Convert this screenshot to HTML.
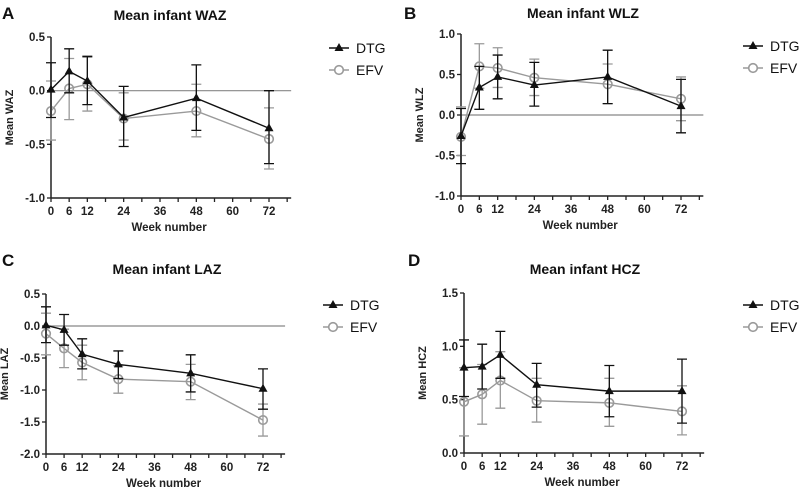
<!DOCTYPE html>
<html><head><meta charset="utf-8"><style>
html,body{margin:0;padding:0;background:#fff;}
svg{display:block;font-family:"Liberation Sans",Arial,sans-serif;}
</style></head><body>
<svg id="fig" width="799" height="491" viewBox="0 0 799 491"></svg>
<script>
const weeks=[0,6,12,24,48,72];
const xTicks=[0,6,12,18,24,30,36,42,48,54,60,66,72,78];
const xLabels=[0,6,12,24,36,48,60,72];
// A WAZ
const wazDtg=[0.01,0.18,0.09,-0.25,-0.07,-0.35];
const wazDtgLo=[-0.25,-0.02,-0.13,-0.52,-0.37,-0.68];
const wazDtgHi=[0.26,0.39,0.32,0.04,0.24,0.0];
const wazEfv=[-0.19,0.02,0.06,-0.26,-0.19,-0.45];
const wazEfvLo=[-0.46,-0.27,-0.19,-0.46,-0.43,-0.73];
const wazEfvHi=[0.09,0.30,0.31,-0.02,0.06,-0.16];
const wazTicks=[0.5,0.0,-0.5,-1.0];
// B WLZ
const wlzDtg=[-0.26,0.34,0.47,0.37,0.47,0.11];
const wlzDtgLo=[-0.6,0.07,0.2,0.11,0.14,-0.22];
const wlzDtgHi=[0.08,0.6,0.74,0.65,0.8,0.44];
const wlzEfv=[-0.27,0.6,0.58,0.46,0.38,0.2];
const wlzEfvLo=[-0.5,0.33,0.34,0.24,0.14,-0.07];
const wlzEfvHi=[0.1,0.88,0.83,0.69,0.63,0.47];
const wlzTicks=[1.0,0.5,0.0,-0.5,-1.0];
// C LAZ
const lazDtg=[0.01,-0.06,-0.44,-0.6,-0.74,-0.98];
const lazDtgLo=[-0.26,-0.3,-0.67,-0.82,-1.03,-1.3];
const lazDtgHi=[0.3,0.18,-0.2,-0.39,-0.45,-0.67];
const lazEfv=[-0.12,-0.35,-0.57,-0.83,-0.87,-1.47];
const lazEfvLo=[-0.45,-0.65,-0.84,-1.05,-1.15,-1.72];
const lazEfvHi=[0.2,-0.05,-0.3,-0.62,-0.6,-1.22];
const lazTicks=[0.5,0.0,-0.5,-1.0,-1.5,-2.0];
// D HCZ
const hczDtg=[0.8,0.81,0.92,0.64,0.58,0.58];
const hczDtgLo=[0.53,0.6,0.7,0.43,0.34,0.28];
const hczDtgHi=[1.06,1.02,1.14,0.84,0.82,0.88];
const hczEfv=[0.48,0.55,0.68,0.49,0.47,0.39];
const hczEfvLo=[0.16,0.27,0.42,0.29,0.25,0.17];
const hczEfvHi=[0.8,0.83,0.95,0.7,0.7,0.63];
const hczTicks=[1.5,1.0,0.5,0.0];

const NS="http://www.w3.org/2000/svg";
const svg=document.getElementById('fig');
function mk(tag,attrs,parent,text){const e=document.createElementNS(NS,tag);for(const k in attrs)e.setAttribute(k,attrs[k]);if(text!==undefined)e.textContent=text;(parent||svg).appendChild(e);return e;}

function panel(cfg){
  const g=mk('g',{});
  
  
  const X=w=>cfg.x0+(cfg.x72-cfg.x0)*w/72;
  const Y=v=>cfg.yTop+(cfg.yBot-cfg.yTop)*(cfg.vTop-v)/(cfg.vTop-cfg.vBot);
  const xEnd=X(78)+4;
  let t=mk('text',{x:cfg.lx,y:cfg.ly,'font-size':17,'font-weight':'bold',fill:'#111'},g,cfg.letter);
  
  t=mk('text',{x:cfg.tx,y:cfg.ty,'font-size':14,'font-weight':'bold','text-anchor':'middle',fill:'#111'},g,cfg.title);
  
  // zero line
  if(cfg.zero){const z=mk('line',{x1:cfg.x0,x2:xEnd,y1:Y(0),y2:Y(0),stroke:'#888','stroke-width':1.2},g);
    }
  // axes
  const ya=mk('line',{x1:cfg.x0,x2:cfg.x0,y1:cfg.yTop,y2:cfg.yBot,stroke:'#222','stroke-width':1.5},g);
  
  const xa=mk('line',{x1:cfg.x0,x2:xEnd,y1:cfg.yBot,y2:cfg.yBot,stroke:'#222','stroke-width':1.5},g);
  
  cfg.yTicks.forEach(v=>{
    mk('line',{x1:cfg.x0-4,x2:cfg.x0,y1:Y(v),y2:Y(v),stroke:'#222','stroke-width':1.3},g);
    const l=mk('text',{x:cfg.x0-6,y:Y(v)+4,'font-size':11.5,'font-weight':'bold','text-anchor':'end',fill:'#222'},g,v.toFixed(1));
    
  });
  xTicks.forEach(w=>{mk('line',{x1:X(w),x2:X(w),y1:cfg.yBot,y2:cfg.yBot+4,stroke:'#222','stroke-width':1.3},g);});
  xLabels.forEach(w=>{
    const l=mk('text',{x:X(w),y:cfg.yBot+17,'font-size':11.5,'font-weight':'bold','text-anchor':'middle',fill:'#222'},g,String(w));
    
  });
  t=mk('text',{x:(cfg.x0+X(78))/2,y:cfg.yBot+33,'font-size':11.5,'font-weight':'bold','text-anchor':'middle',fill:'#222'},g,'Week number');
  
  const cy=(cfg.yTop+cfg.yBot)/2;
  t=mk('text',{x:0,y:0,'font-size':11,'font-weight':'bold','text-anchor':'middle',fill:'#222',transform:`translate(${cfg.x0-38},${cy}) rotate(-90)`},g,cfg.ylabel);
  
  // series
  const series=[
    {name:'efv',m:cfg.efv,lo:cfg.efvLo,hi:cfg.efvHi,col:'#9a9a9a',mark:'circle'},
    {name:'dtg',m:cfg.dtg,lo:cfg.dtgLo,hi:cfg.dtgHi,col:'#111',mark:'tri'}];
  series.forEach(s=>{
    const sg=mk('g',{},g);
    
    weeks.forEach((w,i)=>{
      const x=X(w);
      const e=mk('path',{d:`M${x},${Y(s.lo[i])}V${Y(s.hi[i])}M${x-5},${Y(s.lo[i])}h10M${x-5},${Y(s.hi[i])}h10`,stroke:s.col,'stroke-width':1.3,fill:'none'},sg);
      
    });
    const p=mk('polyline',{points:weeks.map((w,i)=>X(w)+','+Y(s.m[i])).join(' '),fill:'none',stroke:s.col,'stroke-width':1.4},sg);
    
    weeks.forEach((w,i)=>{
      const x=X(w),y=Y(s.m[i]);let m;
      if(s.mark==='circle')m=mk('circle',{cx:x,cy:y,r:4.3,fill:'none',stroke:s.col,'stroke-width':1.6},sg);
      else m=mk('path',{d:`M${x},${y-5}L${x+4.5},${y+3}L${x-4.5},${y+3}Z`,fill:s.col},sg);
      
    });
  });
  // legend
  [['DTG','#111','tri',cfg.legY],['EFV','#9a9a9a','circle',cfg.legY+22]].forEach(([n,c,mkr,y])=>{
    const lg=mk('g',{},g);
    
    mk('line',{x1:cfg.legX,x2:cfg.legX+20,y1:y,y2:y,stroke:c,'stroke-width':1.4},lg);
    const cx=cfg.legX+10;
    if(mkr==='tri')mk('path',{d:`M${cx},${y-5}L${cx+4.5},${y+3}L${cx-4.5},${y+3}Z`,fill:c},lg);
    else mk('circle',{cx:cx,cy:y,r:4.3,fill:'#fff',stroke:c,'stroke-width':1.6},lg);
    mk('text',{x:cfg.legX+27,y:y+5,'font-size':14,fill:'#111'},lg,n);
  });
}
panel({key:'waz',letter:'A',lx:2,ly:19,title:'Mean infant WAZ',tx:170,ty:20,ylabel:'Mean WAZ',
  x0:51,x72:269,yTop:37,yBot:198,vTop:0.5,vBot:-1.0,yTicks:wazTicks,zero:true,
  dtg:wazDtg,dtgLo:wazDtgLo,dtgHi:wazDtgHi,efv:wazEfv,efvLo:wazEfvLo,efvHi:wazEfvHi,legX:329,legY:48});
panel({key:'wlz',letter:'B',lx:404,ly:19,title:'Mean infant WLZ',tx:583,ty:18,ylabel:'Mean WLZ',
  x0:461,x72:681,yTop:34,yBot:196,vTop:1.0,vBot:-1.0,yTicks:wlzTicks,zero:true,
  dtg:wlzDtg,dtgLo:wlzDtgLo,dtgHi:wlzDtgHi,efv:wlzEfv,efvLo:wlzEfvLo,efvHi:wlzEfvHi,legX:743,legY:46});
panel({key:'laz',letter:'C',lx:2,ly:266,title:'Mean infant LAZ',tx:167,ty:274,ylabel:'Mean LAZ',
  x0:46,x72:263,yTop:294,yBot:454,vTop:0.5,vBot:-2.0,yTicks:lazTicks,zero:true,
  dtg:lazDtg,dtgLo:lazDtgLo,dtgHi:lazDtgHi,efv:lazEfv,efvLo:lazEfvLo,efvHi:lazEfvHi,legX:323,legY:305});
panel({key:'hcz',letter:'D',lx:408,ly:266,title:'Mean infant HCZ',tx:585,ty:274,ylabel:'Mean HCZ',
  x0:464,x72:682,yTop:293,yBot:453,vTop:1.5,vBot:0.0,yTicks:hczTicks,zero:false,
  dtg:hczDtg,dtgLo:hczDtgLo,dtgHi:hczDtgHi,efv:hczEfv,efvLo:hczEfvLo,efvHi:hczEfvHi,legX:743,legY:305});
</script>
</body></html>
